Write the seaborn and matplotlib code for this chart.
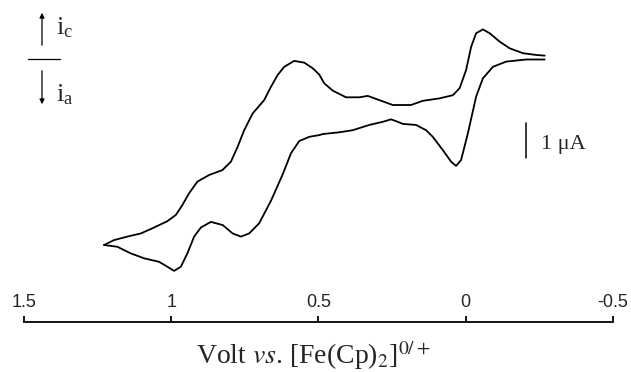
import numpy as np
import pandas as pd
import matplotlib
matplotlib.use("Agg")
import matplotlib.pyplot as plt
import seaborn as sns

# upper branch, left tip -> right end (V vs Fc, current in uA)
upper_volt = [1.228, 1.194, 1.149, 1.103, 1.058, 1.013, 0.984, 0.962, 0.939, 0.911,
              0.871, 0.826, 0.797, 0.774, 0.752, 0.723, 0.684, 0.661, 0.638, 0.616,
              0.582, 0.548, 0.519, 0.497, 0.480, 0.451, 0.406, 0.361, 0.332, 0.293,
              0.247, 0.185, 0.145, 0.088, 0.043, 0.020, -0.002, -0.019, -0.036, -0.059,
              -0.082, -0.116, -0.150, -0.195, -0.240, -0.269]
upper_curr = [-5.37, -5.23, -5.13, -5.04, -4.87, -4.69, -4.51, -4.23, -3.89, -3.56,
              -3.37, -3.23, -2.99, -2.56, -2.09, -1.61, -1.23, -0.85, -0.51, -0.28,
              -0.11, -0.16, -0.32, -0.50, -0.75, -0.96, -1.15, -1.15, -1.11, -1.23,
              -1.37, -1.37, -1.25, -1.18, -1.09, -0.89, -0.37, 0.29, 0.68, 0.79,
              0.68, 0.44, 0.25, 0.11, 0.06, 0.04]

# lower branch, left tip -> right end
lower_volt = [1.228, 1.183, 1.137, 1.092, 1.041, 1.013, 0.990, 0.967, 0.945, 0.922,
              0.899, 0.865, 0.825, 0.791, 0.763, 0.735, 0.701, 0.660, 0.621, 0.593,
              0.565, 0.531, 0.497, 0.485, 0.429, 0.383, 0.327, 0.281, 0.253, 0.230,
              0.213, 0.168, 0.134, 0.111, 0.077, 0.049, 0.032, 0.015, -0.008, -0.036,
              -0.059, -0.093, -0.138, -0.206, -0.269]
lower_curr = [-5.37, -5.42, -5.61, -5.75, -5.85, -5.99, -6.11, -5.99, -5.61, -5.13,
              -4.87, -4.71, -4.80, -5.04, -5.13, -5.04, -4.75, -4.09, -3.35, -2.75,
              -2.40, -2.28, -2.23, -2.20, -2.15, -2.09, -1.94, -1.85, -1.78, -1.85,
              -1.91, -1.94, -2.09, -2.28, -2.66, -2.99, -3.11, -2.94, -2.18, -1.13,
              -0.61, -0.28, -0.13, -0.07, -0.07]

tick_vals = [1.5, 1, 0.5, 0, -0.5]
tick_labels = ["1.5", "1", "0.5", "0", "-0.5"]

df = pd.concat([
    pd.DataFrame({"volt": upper_volt, "curr": upper_curr, "branch": "upper"}),
    pd.DataFrame({"volt": lower_volt, "curr": lower_curr, "branch": "lower"}),
])

sns.set_theme(style="white")
plt.rcParams["mathtext.fontset"] = "stix"

fig = plt.figure(figsize=(6.31, 3.72), dpi=100)
ax = fig.add_axes([0.038, 0.1344, 0.933, 0.8656])

for name, grp in df.groupby("branch"):
    sns.lineplot(data=grp, x="volt", y="curr", sort=False, estimator=None,
                 color="black", linewidth=1.3, ax=ax)

ax.set_xlim(1.5, -0.5)
ax.set_ylim(-7.57, 1.63)
ax.set_xticks(tick_vals)
ax.set_xticklabels(tick_labels, fontsize=13, family="Liberation Sans")
ax.set_yticks([])
ax.set_ylabel("")
ax.set_xlabel("")
for s in ["left", "top", "right"]:
    ax.spines[s].set_visible(False)
ax.spines["bottom"].set_color("black")
ax.spines["bottom"].set_linewidth(1.3)
ax.tick_params(axis="x", direction="in", length=4, width=1.3, color="black",
               pad=-20, bottom=True)

# x label
fig.text(313 / 631, 1 - 364 / 372, r"Volt $\mathit{vs}$. [Fe(Cp)$_2$]$^{0/+}$",
         fontsize=20, family="Liberation Serif", ha="center", va="baseline")

# scale bar 1 uA
ax.plot([-0.207, -0.207], [-1.89, -2.89], color="black", linewidth=1.1)
ax.text(-0.255, -2.5, "1 \u03bcA", fontsize=16, family="Liberation Serif",
        va="center", ha="left")

# current direction legend
fig.patches.append(matplotlib.patches.FancyArrowPatch(
    (42 / 631, 1 - 48 / 372), (42 / 631, 1 - 10 / 372), transform=fig.transFigure,
    arrowstyle="-|>", mutation_scale=7, color="black", linewidth=0.9))
fig.patches.append(matplotlib.patches.FancyArrowPatch(
    (42 / 631, 1 - 68 / 372), (42 / 631, 1 - 107 / 372), transform=fig.transFigure,
    arrowstyle="-|>", mutation_scale=7, color="black", linewidth=0.9))
fig.add_artist(matplotlib.lines.Line2D([28 / 631, 60 / 631], [1 - 59 / 372, 1 - 59 / 372],
                                       color="black", linewidth=0.9))
fig.text(56 / 631, 1 - 28 / 372, r"i$_\mathregular{c}$", fontsize=19,
         family="Liberation Serif", va="center", ha="left")
fig.text(56 / 631, 1 - 95 / 372, r"i$_\mathregular{a}$", fontsize=19,
         family="Liberation Serif", va="center", ha="left")

fig.savefig("out.png", dpi=100)
